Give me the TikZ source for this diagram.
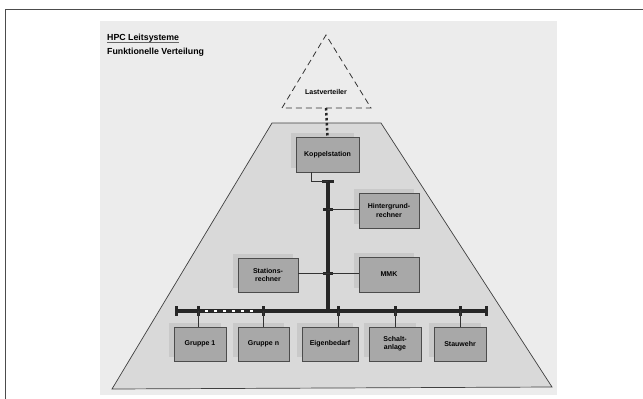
\documentclass[tikz,border=0pt]{standalone}
\usepackage{fontspec}
\setmainfont{Liberation Sans}
\usetikzlibrary{shadows}
\definecolor{paper}{gray}{0.925}
\definecolor{trapgray}{gray}{0.85}
\definecolor{boxgray}{gray}{0.66}
\definecolor{shadegray}{gray}{0.79}

\begin{document}
\begin{tikzpicture}[x=1pt, y=-1pt, every node/.append style={text=black, font=\bfseries\fontsize{7}{8.4}\selectfont},
	unit/.style={draw=black!70, line width=0.7pt, fill=boxgray, minimum width=60pt, minimum height=35pt, align=center, inner sep=1pt,
		general shadow={fill=shadegray, shadow xshift=-5pt, shadow yshift=4pt}},
	bus/.style={line width=3.5pt, draw=black!85},
	busmark/.style={line width=3pt, draw=black!85},
	wire/.style={line width=0.6pt, draw=black!80}]
	
	\useasboundingbox (0,0) rectangle (643,399);
	\fill[paper] (100,21) rectangle (557,395);
	\draw[black!70, line width=0.9pt] (643,9) -- (5,9) -- (5,399);
	
	\node[anchor=base west, inner sep=0pt, font=\bfseries\fontsize{8.8}{10}\selectfont] (title) at (107,40) {HPC Leitsysteme};
	\draw[black!60, line width=0.5pt] ([yshift=-2pt]title.base west) -- ([yshift=-2pt]title.base east);
	\node[anchor=base west, inner sep=0pt, font=\bfseries\fontsize{8.8}{10}\selectfont] (subtitle) at (107,54) {Funktionelle Verteilung};
	
	% Lastverteiler
	\coordinate (apex) at (326,35);
	\coordinate (lvbase) at (326,108);
	\draw[black!80, line width=0.8pt, dash pattern=on 6pt off 4pt] (282,108) -- (apex) -- (371,108) -- cycle;
	\node (last) at (326,92) {Lastverteiler};
	
	% Anlage
	\draw[fill=trapgray, draw=black!75, line width=0.7pt] (272,123) -- (381,123) -- (552,387) -- (112,389) -- cycle;
	
	\node[unit, minimum width=63pt] (koppel) at (327.5,154.5) {Koppelstation};
	\node[unit] (hinter) at (389,210.5) {Hintergrund-\\rechner};
	\node[unit, minimum height=34pt] (station) at (268,275) {Stations-\\rechner};
	\node[unit] (mmk) at (389,274.5) {MMK};
	
	\foreach \n/\x/\w/\t in {g1/200/52/{Gruppe 1}, gn/263.5/51/{Gruppe n}, eb/330/56/{Eigenbedarf}, sa/395/52/{Schalt-\\anlage}, sw/460/52/{Stauwehr}}
	{
		\node[unit, minimum width=\w pt, minimum height=34pt] (\n) at (\x,344) {\t};
	}
	
	\draw[black!85, line width=2.5pt, dash pattern=on 2.5pt off 2.5pt] (lvbase) -- (koppel.north);
	
	% Busse
	\coordinate (vtop) at (328,181);
	\coordinate (vbot) at (328,311);
	\coordinate (hl) at (176,311);
	\coordinate (hr) at (486,311);
	\draw[bus] (vtop) -- (vbot);
	\draw[bus] (hl) -- (hr);
	\draw[white, line width=1.4pt, dash pattern=on 3pt off 6pt] (205,311) -- (257,311);
	\draw[busmark] ([yshift=5pt]hl) -- ([yshift=-5pt]hl);
	\draw[busmark] ([yshift=5pt]hr) -- ([yshift=-5pt]hr);
	\draw[busmark] ([xshift=-6pt]vtop) -- ([xshift=6pt]vtop);
	
	\coordinate (kstub) at (311,181);
	\draw[wire] (kstub |- koppel.south) -- (kstub) -- (vtop);
	
	\coordinate (th) at (328,209);
	\coordinate (ts) at (328,273);
	\draw[busmark] ([xshift=-5pt]th) -- ([xshift=5pt]th);
	\draw[busmark] ([xshift=-5pt]ts) -- ([xshift=5pt]ts);
	\draw[wire] (th) -- (th -| hinter.west);
	\draw[wire] (ts -| station.east) -- (ts -| mmk.west);
	
	\foreach \n/\x in {g1/198, gn/263, eb/338, sa/395, sw/460}
	{
		\coordinate (t\n) at (\x,311);
		\draw[busmark] ([yshift=5pt]t\n) -- ([yshift=-5pt]t\n);
		\draw[wire] (t\n) -- (t\n |- \n.north);
	}
	
\end{tikzpicture}
\end{document}
